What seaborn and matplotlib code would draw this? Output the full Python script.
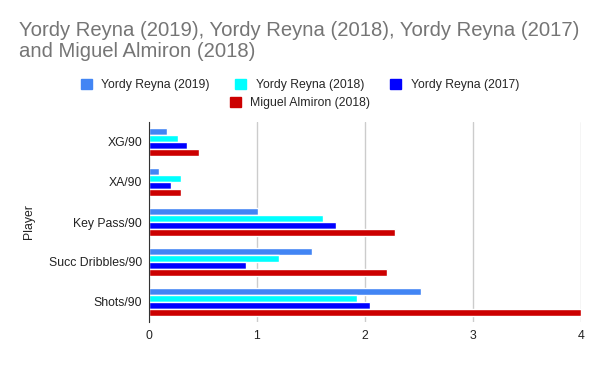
import pandas as pd
import matplotlib.pyplot as plt
import seaborn as sns

metrics = ['XG/90', 'XA/90', 'Key Pass/90', 'Succ Dribbles/90', 'Shots/90']
players = ['Yordy Reyna (2019)', 'Yordy Reyna (2018)', 'Yordy Reyna (2017)', 'Miguel Almiron (2018)']
reyna_2019 = [0.17, 0.09, 1.01, 1.51, 2.52]
reyna_2018 = [0.27, 0.30, 1.61, 1.20, 1.93]
reyna_2017 = [0.35, 0.20, 1.73, 0.90, 2.05]
almiron_2018 = [0.46, 0.30, 2.28, 2.20, 4.00]
colors = ['#4285f4', '#00ffff', '#0000ff', '#cc0000']

rows = []
for player, vals in zip(players, [reyna_2019, reyna_2018, reyna_2017, almiron_2018]):
    for m, v in zip(metrics, vals):
        rows.append({'Metric': m, 'Player': player, 'Value': v})
df = pd.DataFrame(rows)

sns.set_style('white')
plt.rcParams['font.family'] = ['Liberation Sans', 'DejaVu Sans']

fig = plt.figure(figsize=(6, 3.71), dpi=100)
ax = fig.add_axes([149 / 600, 1 - 322 / 371, (581 - 149) / 600, 200 / 371])
sns.barplot(data=df, y='Metric', x='Value', hue='Player', order=metrics,
            hue_order=players, palette=colors, orient='h', width=0.68,
            saturation=1, ax=ax, legend=False)

ax.set_xlim(0, 4)
ax.set_xticks([0, 1, 2, 3, 4])
ax.set_ylim(4.5, -0.5)
ax.grid(axis='x', color='#cccccc', linewidth=1)
ax.grid(axis='y', visible=False)
ax.set_axisbelow(True)
for s in ['top', 'right', 'bottom']:
    ax.spines[s].set_visible(False)
ax.spines['left'].set_color('#333333')
ax.tick_params(axis='y', length=0, labelsize=8.8, labelcolor='#222222', pad=5)
ax.tick_params(axis='x', length=0, labelsize=8.8, labelcolor='#222222', pad=6)
ax.set_xlabel('')
ax.set_ylabel('Player', fontsize=8.8, color='#222222', labelpad=10)

fig.text(19 / 600, 1 - 21 / 371, 'Yordy Reyna (2019), Yordy Reyna (2018), Yordy Reyna (2017)\nand Miguel Almiron (2018)',
         fontsize=14.6, color='#757575', va='top', ha='left', linespacing=1.12)

handles = [plt.Rectangle((0, 0), 1, 1, color=c) for c in colors]
fig.legend(handles[:3], players[:3], loc='center', bbox_to_anchor=(0.5, 1 - 85 / 371),
           ncol=3, frameon=False, fontsize=8.8, handlelength=0.9, handleheight=0.9,
           columnspacing=2.1, handletextpad=0.8)
fig.legend(handles[3:], players[3:], loc='center', bbox_to_anchor=(0.5, 1 - 103 / 371),
           ncol=1, frameon=False, fontsize=8.8, handlelength=0.9, handleheight=0.9,
           handletextpad=0.8)

fig.savefig('out.png', dpi=100)
